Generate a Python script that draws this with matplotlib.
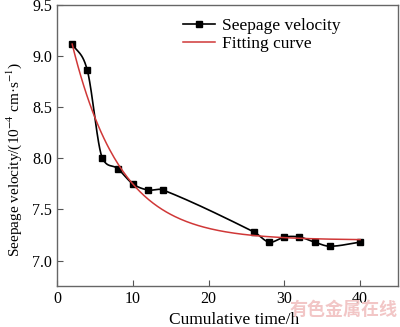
import numpy as np
import matplotlib
matplotlib.use("Agg")
import matplotlib.pyplot as plt

time_h = [2, 4, 6, 8, 10, 12, 14, 26, 28, 30, 32, 34, 36, 40]
velocity = [9.12, 8.86, 8.00, 7.90, 7.75, 7.69, 7.69, 7.28, 7.18, 7.23, 7.23, 7.18, 7.14, 7.18]

# exponential fit parameters: v = v_inf + amp * exp(-t / tau)
v_inf, amp, tau = 7.20, 2.62, 6.4


def spline_smooth(x, y, n=40):
    # cubic Hermite through the points, tangents from neighbouring points
    x = np.asarray(x, float); y = np.asarray(y, float)
    h = np.diff(x); d = np.diff(y) / h
    m = np.empty_like(y)
    m[1:-1] = (y[2:] - y[:-2]) / (x[2:] - x[:-2])
    m[0] = d[0]; m[-1] = d[-1]
    for i in range(1, len(x) - 1):
        if d[i - 1] * d[i] > 0:
            lim = 3 * min(abs(d[i - 1]), abs(d[i]))
            m[i] = np.sign(m[i]) * min(abs(m[i]), lim)
    xs, ys = [], []
    for i in range(len(x) - 1):
        s = np.linspace(0, 1, n)
        h00 = 2 * s**3 - 3 * s**2 + 1
        h10 = s**3 - 2 * s**2 + s
        h01 = -2 * s**3 + 3 * s**2
        h11 = s**3 - s**2
        xs.append(x[i] + s * h[i])
        ys.append(h00 * y[i] + h10 * h[i] * m[i] + h01 * y[i + 1] + h11 * h[i] * m[i + 1])
    return np.concatenate(xs), np.concatenate(ys)


plt.rcParams['font.family'] = ['Liberation Serif', 'DejaVu Serif']
plt.rcParams['mathtext.fontset'] = 'stix'

fig = plt.figure(figsize=(4.0, 3.27), dpi=100)
ax = fig.add_axes([0.1425, 0.125, 0.8525, 0.86])

sx, sy = spline_smooth(time_h, velocity)
ax.plot(sx, sy, color='black', lw=1.2)
ax.plot(time_h, velocity, 's', color='black', ms=5)

tf = np.linspace(time_h[0], time_h[-1], 200)
ax.plot(tf, v_inf + amp * np.exp(-tf / tau), color='#d03838', lw=1.1)

# legend proxies
ax.plot([], [], 's-', color='black', ms=4, lw=1.2, label='Seepage velocity')
ax.plot([], [], color='#d03838', lw=1.1, label='Fitting curve')
h, l = ax.get_legend_handles_labels()
ax.legend(h[-2:], l[-2:], loc='upper left', bbox_to_anchor=(0.37, 0.955),
          frameon=False, fontsize=12.5, handlelength=1.85, handletextpad=0.4,
          labelspacing=0.15, borderaxespad=0, borderpad=0)

ax.set_xlim(0, 45)
ax.set_ylim(6.75, 9.5)
ax.set_xticks([0, 10, 20, 30, 40])
ax.set_yticks([7.0, 7.5, 8.0, 8.5, 9.0, 9.5])
ax.tick_params(direction='in', length=4, width=0.8, labelsize=11.5, color='#555555')
for sp in ax.spines.values():
    sp.set_color('#666666'); sp.set_linewidth(1.0)

ax.set_xlabel('Cumulative time/h', fontsize=12.5)
ax.xaxis.set_label_coords(0.519, -0.093)
ax.set_ylabel('Seepage velocity/(10$^{-4}$ cm·s$^{-1}$)', fontsize=11)
ax.yaxis.set_label_coords(-0.097, 0.45)

fig.text(0.995, 0.025, '有色金属在线', fontsize=13, color='#f2c6c6', weight='bold',
         ha='right', va='bottom', family=['Noto Sans CJK SC', 'DejaVu Sans'])

fig.savefig('out.png', dpi=100)
